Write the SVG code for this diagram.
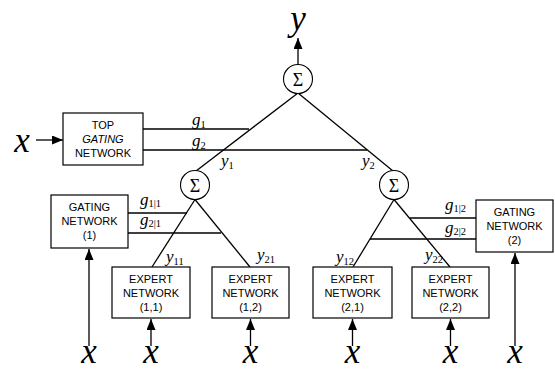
<svg xmlns="http://www.w3.org/2000/svg" width="555" height="371" viewBox="0 0 555 371">
<style>
.box{fill:#fff;stroke:#000;stroke-width:1.2}
.ln{stroke:#000;stroke-width:1.3;fill:none}
.bt{font-family:"Liberation Sans",Arial,sans-serif;font-size:11px;text-anchor:middle;fill:#000}
.it{font-style:italic}
.sig{fill:#fff;stroke:#000;stroke-width:1.1}
.st{font-family:"Liberation Serif","Times New Roman",serif;font-size:18px;text-anchor:middle;fill:#000}
.lab{font-family:"Liberation Serif","Times New Roman",serif;font-style:italic;font-size:17px;fill:#000}
.sub{font-size:10.5px;font-style:normal}
.big{font-family:"Liberation Serif","Times New Roman",serif;font-style:italic;font-size:35px;text-anchor:middle;fill:#000}
</style>
<defs>
<marker id="ah" markerUnits="userSpaceOnUse" markerWidth="12" markerHeight="9" refX="11" refY="4.5" orient="auto">
<path d="M0,0 L11,4.5 L0,9 z" fill="#000"/>
</marker>
</defs>
<rect width="555" height="371" fill="#fff"/>
<g id="connectors">
<line class="ln" x1="298" y1="64.5" x2="298" y2="38" marker-end="url(#ah)"/>
<line class="ln" x1="36" y1="140" x2="63" y2="140" marker-end="url(#ah)"/>
<line class="ln" x1="298" y1="93" x2="196" y2="171"/>
<line class="ln" x1="298" y1="93" x2="393" y2="171"/>
<line class="ln" x1="143" y1="129" x2="249" y2="129"/>
<line class="ln" x1="143" y1="150" x2="367" y2="150"/>
<line class="ln" x1="195" y1="199.5" x2="152" y2="267"/>
<line class="ln" x1="195" y1="199.5" x2="250" y2="267"/>
<line class="ln" x1="394" y1="199.5" x2="353" y2="267"/>
<line class="ln" x1="394" y1="199.5" x2="450" y2="267"/>
<line class="ln" x1="128" y1="213" x2="187" y2="213"/>
<line class="ln" x1="128" y1="233" x2="221" y2="233"/>
<line class="ln" x1="410" y1="218" x2="476" y2="218"/>
<line class="ln" x1="370" y1="239" x2="476" y2="239"/>
<line class="ln" x1="89" y1="346" x2="89" y2="249" marker-end="url(#ah)"/>
<line class="ln" x1="515" y1="346" x2="515" y2="253" marker-end="url(#ah)"/>
<line class="ln" x1="151" y1="346" x2="151" y2="319" marker-end="url(#ah)"/>
<line class="ln" x1="250.5" y1="346" x2="250.5" y2="319" marker-end="url(#ah)"/>
<line class="ln" x1="352.5" y1="346" x2="352.5" y2="319" marker-end="url(#ah)"/>
<line class="ln" x1="450.5" y1="346" x2="450.5" y2="319" marker-end="url(#ah)"/>
</g>
<g id="labels">
<text class="big" x="298" y="30" font-size="28">y</text>
<text class="big" x="22" y="152">x</text>
<text class="big" x="89" y="363">x</text>
<text class="big" x="151" y="363">x</text>
<text class="big" x="250.5" y="363">x</text>
<text class="big" x="352.5" y="363">x</text>
<text class="big" x="450.5" y="363">x</text>
<text class="big" x="515" y="363">x</text>
<text class="lab" x="192" y="125">g<tspan class="sub" dy="3">1</tspan></text>
<text class="lab" x="192" y="146">g<tspan class="sub" dy="3">2</tspan></text>
<text class="lab" x="221" y="166">y<tspan class="sub" dy="3">1</tspan></text>
<text class="lab" x="362" y="166">y<tspan class="sub" dy="3">2</tspan></text>
<text class="lab" x="140" y="205">g<tspan class="sub" dy="2">1|1</tspan></text>
<text class="lab" x="140" y="225">g<tspan class="sub" dy="2">2|1</tspan></text>
<text class="lab" x="166" y="262">y<tspan class="sub" dy="3">11</tspan></text>
<text class="lab" x="257" y="260">y<tspan class="sub" dy="3">21</tspan></text>
<text class="lab" x="336" y="262">y<tspan class="sub" dy="3">12</tspan></text>
<text class="lab" x="425" y="260">y<tspan class="sub" dy="3">22</tspan></text>
<text class="lab" x="445" y="210">g<tspan class="sub" dy="2">1|2</tspan></text>
<text class="lab" x="445" y="233">g<tspan class="sub" dy="2">2|2</tspan></text>
</g>
<g id="sum-top"><circle class="sig" cx="298" cy="79" r="14.5"/><text class="st" x="298" y="85.5">Σ</text></g>
<g id="sum-1"><circle class="sig" cx="195" cy="185" r="14.5"/><text class="st" x="195" y="191.5">Σ</text></g>
<g id="sum-2"><circle class="sig" cx="394" cy="185" r="14.5"/><text class="st" x="394" y="191.5">Σ</text></g>
<g id="top-gating"><rect class="box" x="63" y="113" width="80" height="52"/>
<text class="bt" x="103" y="129">TOP</text><text class="bt it" x="103" y="143">GATING</text><text class="bt" x="103" y="157">NETWORK</text></g>
<g id="gating-1"><rect class="box" x="51" y="195" width="77" height="53"/>
<text class="bt" x="89.5" y="211">GATING</text><text class="bt" x="89.5" y="225">NETWORK</text><text class="bt" x="89.5" y="239">(1)</text></g>
<g id="gating-2"><rect class="box" x="476" y="200" width="77" height="52"/>
<text class="bt" x="514.5" y="216">GATING</text><text class="bt" x="514.5" y="230">NETWORK</text><text class="bt" x="514.5" y="244">(2)</text></g>
<g id="expert-11"><rect class="box" x="112" y="267" width="78" height="51"/>
<text class="bt" x="151" y="283">EXPERT</text><text class="bt" x="151" y="297">NETWORK</text><text class="bt" x="151" y="311">(1,1)</text></g>
<g id="expert-12"><rect class="box" x="212" y="267" width="77" height="51"/>
<text class="bt" x="250.5" y="283">EXPERT</text><text class="bt" x="250.5" y="297">NETWORK</text><text class="bt" x="250.5" y="311">(1,2)</text></g>
<g id="expert-21"><rect class="box" x="313" y="267" width="79" height="51"/>
<text class="bt" x="352.5" y="283">EXPERT</text><text class="bt" x="352.5" y="297">NETWORK</text><text class="bt" x="352.5" y="311">(2,1)</text></g>
<g id="expert-22"><rect class="box" x="412" y="267" width="77" height="51"/>
<text class="bt" x="450.5" y="283">EXPERT</text><text class="bt" x="450.5" y="297">NETWORK</text><text class="bt" x="450.5" y="311">(2,2)</text></g>
</svg>
